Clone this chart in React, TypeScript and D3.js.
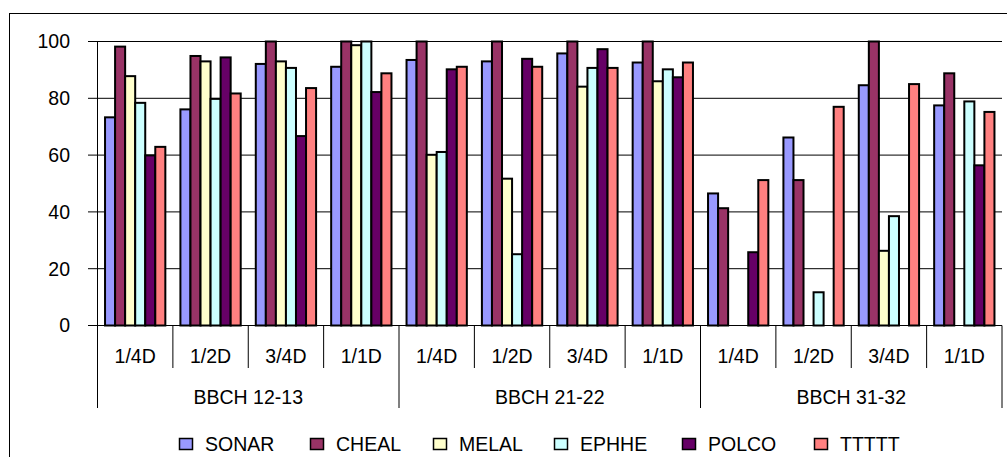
import React from "react";
import * as d3 from "d3";

// Growth stages and dose levels on the two-level x axis
const stages = ["BBCH 12-13", "BBCH 21-22", "BBCH 31-32"];
const doses = ["1/4D", "1/2D", "3/4D", "1/1D"];

// Efficacy (%) per species, ordered stage by stage, dose by dose
const SONAR = [73.3, 76.1, 92.1, 91.1, 93.5, 93.0, 95.8, 92.6, 46.5, 66.2, 84.6, 77.5];
const CHEAL = [98.2, 94.9, 100, 100, 100, 100, 100, 100, 41.3, 51.2, 100, 88.8];
const MELAL = [87.8, 93.0, 93.0, 98.7, 60.1, 51.7, 84.1, 86.0, null, null, 26.3, null];
const EPHHE = [78.4, 79.8, 90.7, 100, 61.1, 25.1, 90.7, 90.2, null, 11.7, 38.5, 78.9];
const POLCO = [59.9, 94.4, 66.7, 82.2, 90.2, 93.9, 97.3, 87.4, 25.8, null, null, 56.4];
const TTTTT = [62.9, 81.7, 83.6, 88.8, 91.1, 91.1, 90.7, 92.6, 51.2, 77.0, 85.0, 75.2];

const yTicks = [0, 20, 40, 60, 80, 100];

const seriesNames = ["SONAR", "CHEAL", "MELAL", "EPHHE", "POLCO", "TTTTT"];
const seriesValues: (number | null)[][] = [SONAR, CHEAL, MELAL, EPHHE, POLCO, TTTTT];
const seriesColors = ["#9999FF", "#993366", "#FFFFCC", "#CCFFFF", "#660066", "#FF8080"];

const FONT = "'Liberation Sans', Arial, sans-serif";
const FS = 19.5;

export default function App() {
  const W = 1007;
  const H = 457;
  const left = 97.5;
  const right = 1002;
  const top = 41.5;
  const bottom = 325.5;

  const categories = stages.flatMap((s) => doses.map((d) => `${s}|${d}`));

  const x0 = d3.scaleBand<string>().domain(categories).range([left, right]).padding(0);
  const step = x0.step();
  const barW = step / (seriesNames.length + 1.5);
  const x1 = d3
    .scaleBand<string>()
    .domain(seriesNames)
    .range([barW * 0.75, step - barW * 0.75])
    .padding(0);

  const y = d3.scaleLinear().domain([0, 100]).range([bottom, top]);

  const stageW = step * doses.length;

  const legendX = [179, 310, 433, 554, 682, 814];

  return (
    <svg
      width={W}
      height={H}
      style={{ position: "absolute", left: 0, top: 0, background: "#fff" }}
      fontFamily={FONT}
    >
      {/* chart frame */}
      <rect x={9.5} y={13.5} width={1100} height={600} fill="#fff" stroke="#000" strokeWidth={1} />

      {/* gridlines and y ticks */}
      {yTicks.map((t) => (
        <g key={t}>
          <line x1={88} x2={right} y1={y(t)} y2={y(t)} stroke="#000" strokeWidth={1} />
          <text
            x={70}
            y={y(t)}
            dy="0.35em"
            textAnchor="end"
            fontSize={FS}
            fill="#000"
          >
            {t}
          </text>
        </g>
      ))}

      {/* bars */}
      {categories.map((c, ci) => (
        <g key={c} transform={`translate(${x0(c)},0)`}>
          {seriesNames.map((s, si) => {
            const v = seriesValues[si][ci];
            if (v === null || v === undefined) return null;
            return (
              <rect
                key={s}
                x={x1(s)}
                y={y(v)}
                width={x1.bandwidth()}
                height={y(0) - y(v)}
                fill={seriesColors[si]}
                stroke="#000"
                strokeWidth={2}
              />
            );
          })}
        </g>
      ))}

      {/* y axis line */}
      <line x1={left} x2={left} y1={top} y2={bottom} stroke="#000" strokeWidth={1} />

      {/* category separators: dose level */}
      {categories.map((c, ci) =>
        ci % doses.length === 0 ? null : (
          <line
            key={`sep-${c}`}
            x1={x0(c) as number}
            x2={x0(c) as number}
            y1={bottom}
            y2={368}
            stroke="#000"
            strokeWidth={1}
          />
        )
      )}
      {/* category separators: growth stage */}
      {d3.range(stages.length + 1).map((i) => (
        <line
          key={`stage-sep-${i}`}
          x1={left + i * stageW}
          x2={left + i * stageW}
          y1={bottom}
          y2={408}
          stroke="#000"
          strokeWidth={1}
        />
      ))}

      {/* dose labels */}
      {categories.map((c, ci) => (
        <text
          key={`lbl-${c}`}
          x={(x0(c) as number) + step / 2}
          y={356}
          dy="0.35em"
          textAnchor="middle"
          fontSize={FS}
          fill="#000"
        >
          {doses[ci % doses.length]}
        </text>
      ))}

      {/* stage labels */}
      {stages.map((s, i) => (
        <text
          key={`stage-${s}`}
          x={left + i * stageW + stageW / 2}
          y={397}
          dy="0.35em"
          textAnchor="middle"
          fontSize={FS}
          fill="#000"
        >
          {s}
        </text>
      ))}

      {/* legend */}
      {seriesNames.map((s, i) => (
        <g key={`leg-${s}`}>
          <rect
            x={legendX[i] + 0.5}
            y={438.5}
            width={13}
            height={11}
            fill={seriesColors[i]}
            stroke="#000"
            strokeWidth={1.5}
          />
          <text x={legendX[i] + 26} y={444} dy="0.35em" fontSize={FS} fill="#000">
            {s}
          </text>
        </g>
      ))}
    </svg>
  );
}
